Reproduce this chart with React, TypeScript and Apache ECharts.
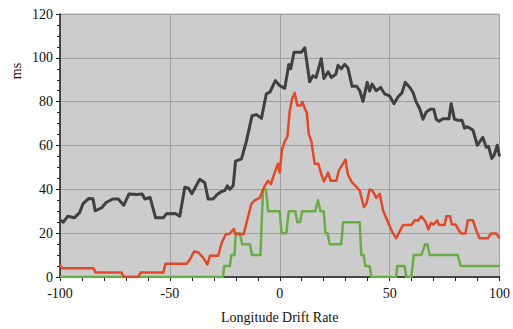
import React, { useEffect, useRef } from "react";
import * as echarts from "echarts";

const xTicks = { min: -100, max: 100, interval: 50 };
const yTicks = { min: 0, max: 120, interval: 20 };

const darkSeries: [number, number][] = [
  [-100, 26], [-98.5, 25], [-96.5, 27.7], [-93.5, 27], [-91, 29.5], [-89.5, 33.5], [-87, 35.8], [-85, 35.7],
  [-84, 30.2], [-81, 31.6], [-79, 34], [-76, 35.6], [-73.5, 35.6], [-71, 32.7], [-68.6, 37.9], [-65, 37.6],
  [-62.6, 37.9], [-61.4, 35.6], [-59, 36.3], [-56.5, 27], [-53, 27], [-51.5, 28.9], [-47.5, 29], [-45.5, 27.7],
  [-43.2, 41], [-41.5, 40.5], [-40, 38], [-36.4, 44.6], [-34.1, 43], [-32.6, 35.6], [-30.3, 35.6], [-28.5, 37.6],
  [-26.5, 39], [-25, 39.4], [-23.8, 41.6], [-22.7, 40], [-21.2, 41.6], [-20.1, 52.9], [-17.4, 53.9], [-15.2, 61.9],
  [-12.6, 73.6], [-10.6, 74.1], [-8.3, 72.4], [-6.1, 83.6], [-4.5, 84.3], [-2, 89.6], [0, 87.3], [2.3, 86.1],
  [4.1, 97], [5, 95], [6.5, 102.6], [9.9, 102.6], [11.4, 104.6], [13.6, 89.1], [15.1, 91.8], [16.5, 91],
  [18.9, 99.6], [20.1, 90.6], [22, 93.6], [23.5, 91], [25.5, 92.5], [26.5, 96.6], [28, 95], [29.5, 97],
  [31, 95.5], [32.9, 87], [35, 87], [36.4, 85], [37.9, 80.1], [39.8, 88.8], [40.9, 84.8], [42, 88],
  [43.9, 85], [45.9, 86.5], [47.7, 83.6], [50, 82.6], [52, 79.1], [53.8, 82.1], [55.6, 84], [57.1, 88.8],
  [59.1, 86.6], [60.6, 84.3], [62.1, 79.8], [63.6, 77], [65.2, 72], [66.7, 75.3], [68.5, 76.5], [70.1, 76.5],
  [71.2, 72], [72.5, 71], [74.2, 72.2], [77, 72.2], [78, 79.1], [79.5, 72], [81, 71.5], [82.9, 71.5],
  [84.1, 67.9], [85, 68.6], [86.5, 67.9], [87.9, 67.1], [89.9, 60.1], [92.4, 63.7], [94, 59.2], [95, 59.6],
  [96.5, 54.1], [97.5, 55.5], [99, 60.1], [100, 55],
];

const redSeries: [number, number][] = [
  [-100, 5.7], [-99.2, 4], [-84.8, 4], [-83.8, 2], [-72, 2], [-70.9, 0], [-64.4, 0], [-63.3, 2],
  [-53, 2], [-52, 6], [-42.4, 6], [-40.9, 8], [-38.9, 11.7], [-37, 11.2], [-34.8, 8.7], [-32.9, 5.7],
  [-31.8, 9.7], [-28, 9.7], [-26.5, 15.4], [-24.5, 19.6], [-23, 19.6], [-20.9, 21.9], [-20.2, 19.6], [-16.4, 19.6],
  [-15.2, 24.4], [-12.9, 33.4], [-11.5, 34.9], [-9.1, 36.1], [-6.8, 41.7], [-5.3, 43.9], [-4, 42.4], [-2.3, 47.6],
  [-0.8, 51.7], [0, 47.6], [1, 58.1], [2.3, 61.9], [3.5, 64.1], [4.5, 75.4], [5.6, 81.3], [6.8, 84],
  [8, 78.3], [9.5, 78.3], [10.3, 79.9], [11.7, 76.1], [12.3, 75], [13.2, 65.2], [14.4, 61.9], [15.9, 51.7],
  [17.5, 51.7], [18.9, 46.9], [20.1, 43.6], [22, 47.6], [23.2, 43.9], [25.8, 43.9], [26.8, 48.4], [29.9, 53.6],
  [31, 46.9], [32.6, 43.6], [34, 42], [36.4, 39.4], [38.3, 31.9], [39.5, 33.7], [40.9, 39.9], [42.2, 39.4],
  [43.9, 36.1], [45.5, 38], [47, 30.4], [49.5, 24.4], [51.5, 19.9], [53, 17.7], [54.5, 20.7], [56.1, 23.7],
  [59.9, 23.7], [61.4, 25.9], [62.9, 25.7], [64.4, 27.7], [66.2, 25.4], [67.7, 21.7], [68.8, 24.7], [70, 23.9],
  [71.7, 25.9], [72.5, 23.7], [75, 23.7], [75.8, 27.7], [77.5, 27.7], [78.3, 24], [80, 24], [81.4, 21.4],
  [82.6, 19.9], [84.5, 19.9], [85.6, 25.9], [87.9, 25.9], [89.4, 21.4], [90.9, 17.7], [94.7, 17.7], [96.2, 19.9],
  [98.5, 19.9], [100, 17.7],
];

const greenSeries: [number, number][] = [
  [-100, 0], [-25.8, 0], [-25.3, 5], [-22.7, 5], [-22, 10], [-20.6, 10], [-20, 20], [-18.2, 20],
  [-17.1, 15], [-13.6, 15], [-12.6, 10], [-8.8, 10], [-7.6, 40], [-6.3, 40], [-5.3, 30], [0, 30],
  [0.8, 20], [3, 20], [4.1, 30], [7.1, 30], [8, 25], [9.2, 25], [10.2, 30], [16.2, 30],
  [17.4, 35], [18.5, 30], [20, 30], [20.8, 20], [21.8, 20], [22.7, 15], [28, 15], [28.8, 25],
  [36.4, 25], [37.1, 10], [38.2, 10], [38.9, 5], [40.9, 5], [41.7, 0], [53, 0], [53.5, 5],
  [56.8, 5], [57.6, 0], [59.9, 0], [61, 10], [64.4, 10], [66.2, 15], [67.2, 15], [68.2, 10],
  [81, 10], [82.3, 5], [100, 5],
];

const xAxisTitle = "Longitude Drift Rate";
const yAxisTitle = "ms";

const FONT = "Liberation Serif";

export default function App() {
  const ref = useRef<HTMLDivElement>(null);
  useEffect(() => {
    if (!ref.current) return;
    const chart = echarts.init(ref.current, undefined, { renderer: "svg" });
    const lineSeries = (data: [number, number][], color: string, width: number, z: number) => ({
      type: "line",
      data,
      showSymbol: false,
      symbol: "none",
      lineStyle: { color, width, join: "round" },
      itemStyle: { color },
      z,
    });
    chart.setOption({
      animation: false,
      backgroundColor: "#ffffff",
      textStyle: { fontFamily: FONT },
      grid: {
        left: 60,
        right: 13,
        top: 14,
        bottom: 48,
        show: true,
        backgroundColor: "#cccccc",
        borderColor: "#b8b8b8",
        borderWidth: 1,
      },
      xAxis: {
        type: "value",
        min: xTicks.min,
        max: xTicks.max,
        interval: xTicks.interval,
        name: xAxisTitle,
        nameLocation: "middle",
        nameGap: 33,
        nameTextStyle: { fontFamily: FONT, fontSize: 14, color: "#111" },
        axisLine: { show: true, onZero: false, lineStyle: { color: "#222", width: 1.5 } },
        axisTick: { show: true, length: 4, lineStyle: { color: "#222" } },
        minorTick: { show: true, splitNumber: 5, length: 4, lineStyle: { color: "#222" } },
        axisLabel: { fontFamily: FONT, fontSize: 14, color: "#111", margin: 9 },
        splitLine: { show: true, lineStyle: { color: "#a0a0a0", width: 1 } },
      },
      yAxis: {
        type: "value",
        min: yTicks.min,
        max: yTicks.max,
        interval: yTicks.interval,
        axisLine: { show: true, onZero: false, lineStyle: { color: "#222", width: 1.5 } },
        axisTick: { show: true, length: 4, lineStyle: { color: "#222" } },
        minorTick: { show: true, splitNumber: 4, length: 3, lineStyle: { color: "#222" } },
        axisLabel: { fontFamily: FONT, fontSize: 14, color: "#111", margin: 7 },
        splitLine: { show: true, lineStyle: { color: "#a0a0a0", width: 1 } },
      },
      graphic: [
        {
          type: "text",
          x: 16,
          y: 71,
          rotation: Math.PI / 2,
          style: {
            text: yAxisTitle,
            fontFamily: FONT,
            fontSize: 14,
            fill: "#111",
            align: "center",
            verticalAlign: "middle",
          },
        },
      ],
      series: [
        lineSeries(greenSeries, "#6aad46", 2.5, 3),
        lineSeries(redSeries, "#e2492a", 2.5, 4),
        lineSeries(darkSeries, "#404040", 3, 5),
      ],
    });
    return () => chart.dispose();
  }, []);
  return (
    <div
      ref={ref}
      style={{ position: "fixed", left: 0, top: 0, width: 513, height: 329 }}
    />
  );
}
